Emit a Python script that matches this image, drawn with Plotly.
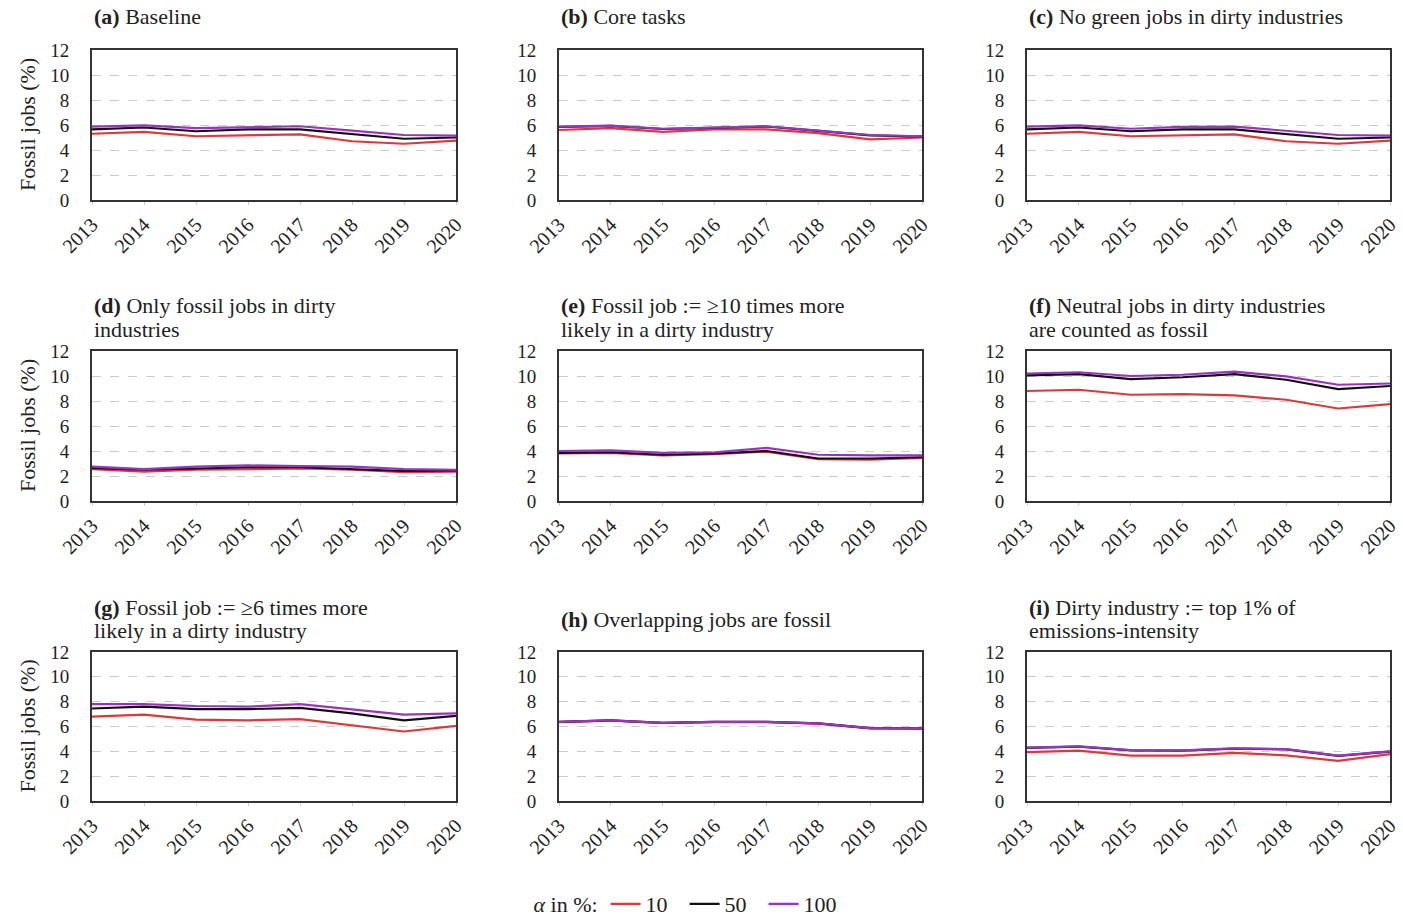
import plotly.graph_objects as go

W, H = 1403, 917
years = [2013, 2014, 2015, 2016, 2017, 2018, 2019, 2020]
year_labels = [str(y) for y in years]
alpha_labels = ["10", "50", "100"]
colors = ["#dc3a3a", "#111111", "#9b32c0"]

titles = [
    ["<b>(a)</b> Baseline"],
    ["<b>(b)</b> Core tasks"],
    ["<b>(c)</b> No green jobs in dirty industries"],
    ["<b>(d)</b> Only fossil jobs in dirty", "industries"],
    ["<b>(e)</b> Fossil job := ≥10 times more", "likely in a dirty industry"],
    ["<b>(f)</b> Neutral jobs in dirty industries", "are counted as fossil"],
    ["<b>(g)</b> Fossil job := ≥6 times more", "likely in a dirty industry"],
    ["<b>(h)</b> Overlapping jobs are fossil"],
    ["<b>(i)</b> Dirty industry := top 1% of", "emissions-intensity"],
]

# values per panel: alpha 10, 50, 100
a_10 = [5.30, 5.45, 5.10, 5.20, 5.25, 4.70, 4.50, 4.75]
a_50 = [5.65, 5.80, 5.50, 5.65, 5.65, 5.30, 4.90, 5.00]
a_100 = [5.87, 5.97, 5.75, 5.85, 5.90, 5.55, 5.20, 5.15]

b_10 = [5.60, 5.75, 5.45, 5.65, 5.65, 5.35, 4.85, 5.00]
b_50 = [5.84, 5.93, 5.68, 5.78, 5.88, 5.53, 5.17, 5.08]
b_100 = [5.87, 5.95, 5.70, 5.80, 5.90, 5.55, 5.20, 5.10]

c_10 = [5.30, 5.45, 5.10, 5.20, 5.25, 4.70, 4.50, 4.75]
c_50 = [5.65, 5.80, 5.50, 5.65, 5.65, 5.30, 4.90, 5.00]
c_100 = [5.87, 5.97, 5.70, 5.85, 5.87, 5.55, 5.20, 5.15]

d_10 = [2.55, 2.35, 2.50, 2.55, 2.60, 2.50, 2.30, 2.35]
d_50 = [2.65, 2.50, 2.60, 2.70, 2.70, 2.55, 2.40, 2.45]
d_100 = [2.75, 2.55, 2.75, 2.85, 2.80, 2.75, 2.55, 2.50]

e_10 = [3.80, 3.85, 3.65, 3.75, 3.95, 3.35, 3.30, 3.45]
e_50 = [3.85, 3.90, 3.70, 3.80, 4.00, 3.40, 3.40, 3.50]
e_100 = [4.00, 4.05, 3.85, 3.90, 4.25, 3.70, 3.65, 3.65]

f_10 = [8.80, 8.90, 8.50, 8.55, 8.45, 8.10, 7.40, 7.75]
f_50 = [10.05, 10.15, 9.75, 9.90, 10.15, 9.70, 8.95, 9.20]
f_100 = [10.20, 10.30, 10.00, 10.10, 10.35, 9.97, 9.30, 9.40]

g_10 = [6.80, 6.95, 6.55, 6.50, 6.60, 6.10, 5.60, 6.05]
g_50 = [7.45, 7.60, 7.40, 7.40, 7.50, 7.05, 6.50, 6.85]
g_100 = [7.80, 7.80, 7.65, 7.60, 7.80, 7.40, 6.95, 7.05]

h_10 = [6.35, 6.48, 6.28, 6.35, 6.35, 6.23, 5.85, 5.83]
h_50 = [6.37, 6.50, 6.30, 6.37, 6.37, 6.25, 5.87, 5.85]
h_100 = [6.37, 6.50, 6.30, 6.37, 6.37, 6.25, 5.87, 5.85]

i_10 = [3.93, 4.05, 3.65, 3.65, 3.87, 3.68, 3.23, 3.78]
i_50 = [4.28, 4.38, 4.08, 4.06, 4.22, 4.16, 3.63, 3.98]
i_100 = [4.30, 4.40, 4.10, 4.08, 4.24, 4.18, 3.65, 4.00]

panels = [
    (a_10, a_50, a_100), (b_10, b_50, b_100), (c_10, c_50, c_100),
    (d_10, d_50, d_100), (e_10, e_50, e_100), (f_10, f_50, f_100),
    (g_10, g_50, g_100), (h_10, h_50, h_100), (i_10, i_50, i_100),
]

y_ticks = [0, 2, 4, 6, 8, 10, 12]

# layout in pixels
col_x = [(92, 456), (559, 922), (1027, 1390)]
row_y = [(50, 200), (351, 501), (652, 801)]

FONT = "Liberation Serif"
TXT = "#222222"
TSIZE = 22

fig = go.Figure()
annotations = []
for k, series in enumerate(panels):
    r, c = divmod(k, 3)
    idx = "" if k == 0 else str(k + 1)
    xa, ya = "x" + idx, "y" + idx
    x0, x1 = col_x[c]
    y0, y1 = row_y[r]
    for s, vals in enumerate(series):
        fig.add_trace(go.Scatter(
            x=years, y=vals, mode="lines", xaxis=xa, yaxis=ya,
            line=dict(color=colors[s], width=2.2),
            name=alpha_labels[s], showlegend=(k == 0),
            legendrank=s,
        ))
    fig.layout["xaxis" + idx] = dict(
        domain=[x0 / W, x1 / W], anchor=ya, range=[2013, 2020],
        tickvals=years, ticktext=year_labels, tickangle=-45,
        showline=True, mirror=True, linecolor="#333333", linewidth=2,
        showgrid=False, zeroline=False, ticks="outside", ticklen=3,
        tickcolor="#cccccc", automargin=False,
        tickfont=dict(family=FONT, size=20, color=TXT),
    )
    fig.layout["yaxis" + idx] = dict(
        domain=[1 - y1 / H, 1 - y0 / H], anchor=xa, range=[0, 12],
        tickvals=y_ticks, showline=True, mirror=True, linecolor="#333333",
        linewidth=2, showgrid=True, gridcolor="#cccccc", gridwidth=1.2,
        griddash="dash", zeroline=False, ticks="", automargin=False,
        ticklabelstandoff=17,
        tickfont=dict(family=FONT, size=19, color=TXT),
    )
    lines = titles[k]
    centers = [y0 - 33] if len(lines) == 1 else [y0 - 45, y0 - 22]
    for txt, cy in zip(lines, centers):
        annotations.append(dict(
            text=txt, xref="paper", yref="paper", x=x0 / W,
            y=1 - cy / H, xanchor="left", yanchor="middle", align="left",
            showarrow=False, font=dict(family=FONT, size=TSIZE, color=TXT),
        ))
    if c == 0:
        annotations.append(dict(
            text="Fossil jobs (%)", xref="paper", yref="paper", x=27 / W,
            y=1 - ((y0 + y1) / 2) / H, xanchor="center", yanchor="middle",
            textangle=-90, showarrow=False,
            font=dict(family=FONT, size=TSIZE, color=TXT),
        ))

fig.update_layout(
    width=W, height=H, margin=dict(l=0, r=0, t=0, b=0, autoexpand=False),
    paper_bgcolor="white", plot_bgcolor="white",
    annotations=annotations,
    legend=dict(
        orientation="h", x=0.49, y=1 - 904 / H, xanchor="center",
        yanchor="middle", title=dict(text="<i>α</i> in %:", side="left",
                                     font=dict(family=FONT, size=TSIZE, color=TXT)),
        font=dict(family=FONT, size=TSIZE, color=TXT),
        entrywidth=34, entrywidthmode="pixels",
        tracegroupgap=0, bgcolor="rgba(0,0,0,0)",
    ),
    font=dict(family=FONT, color=TXT),
)

fig.write_html(
    "out.html",
    config={"displayModeBar": False},
    post_script="document.body.style.margin='0';document.body.style.overflow='hidden';",
)
